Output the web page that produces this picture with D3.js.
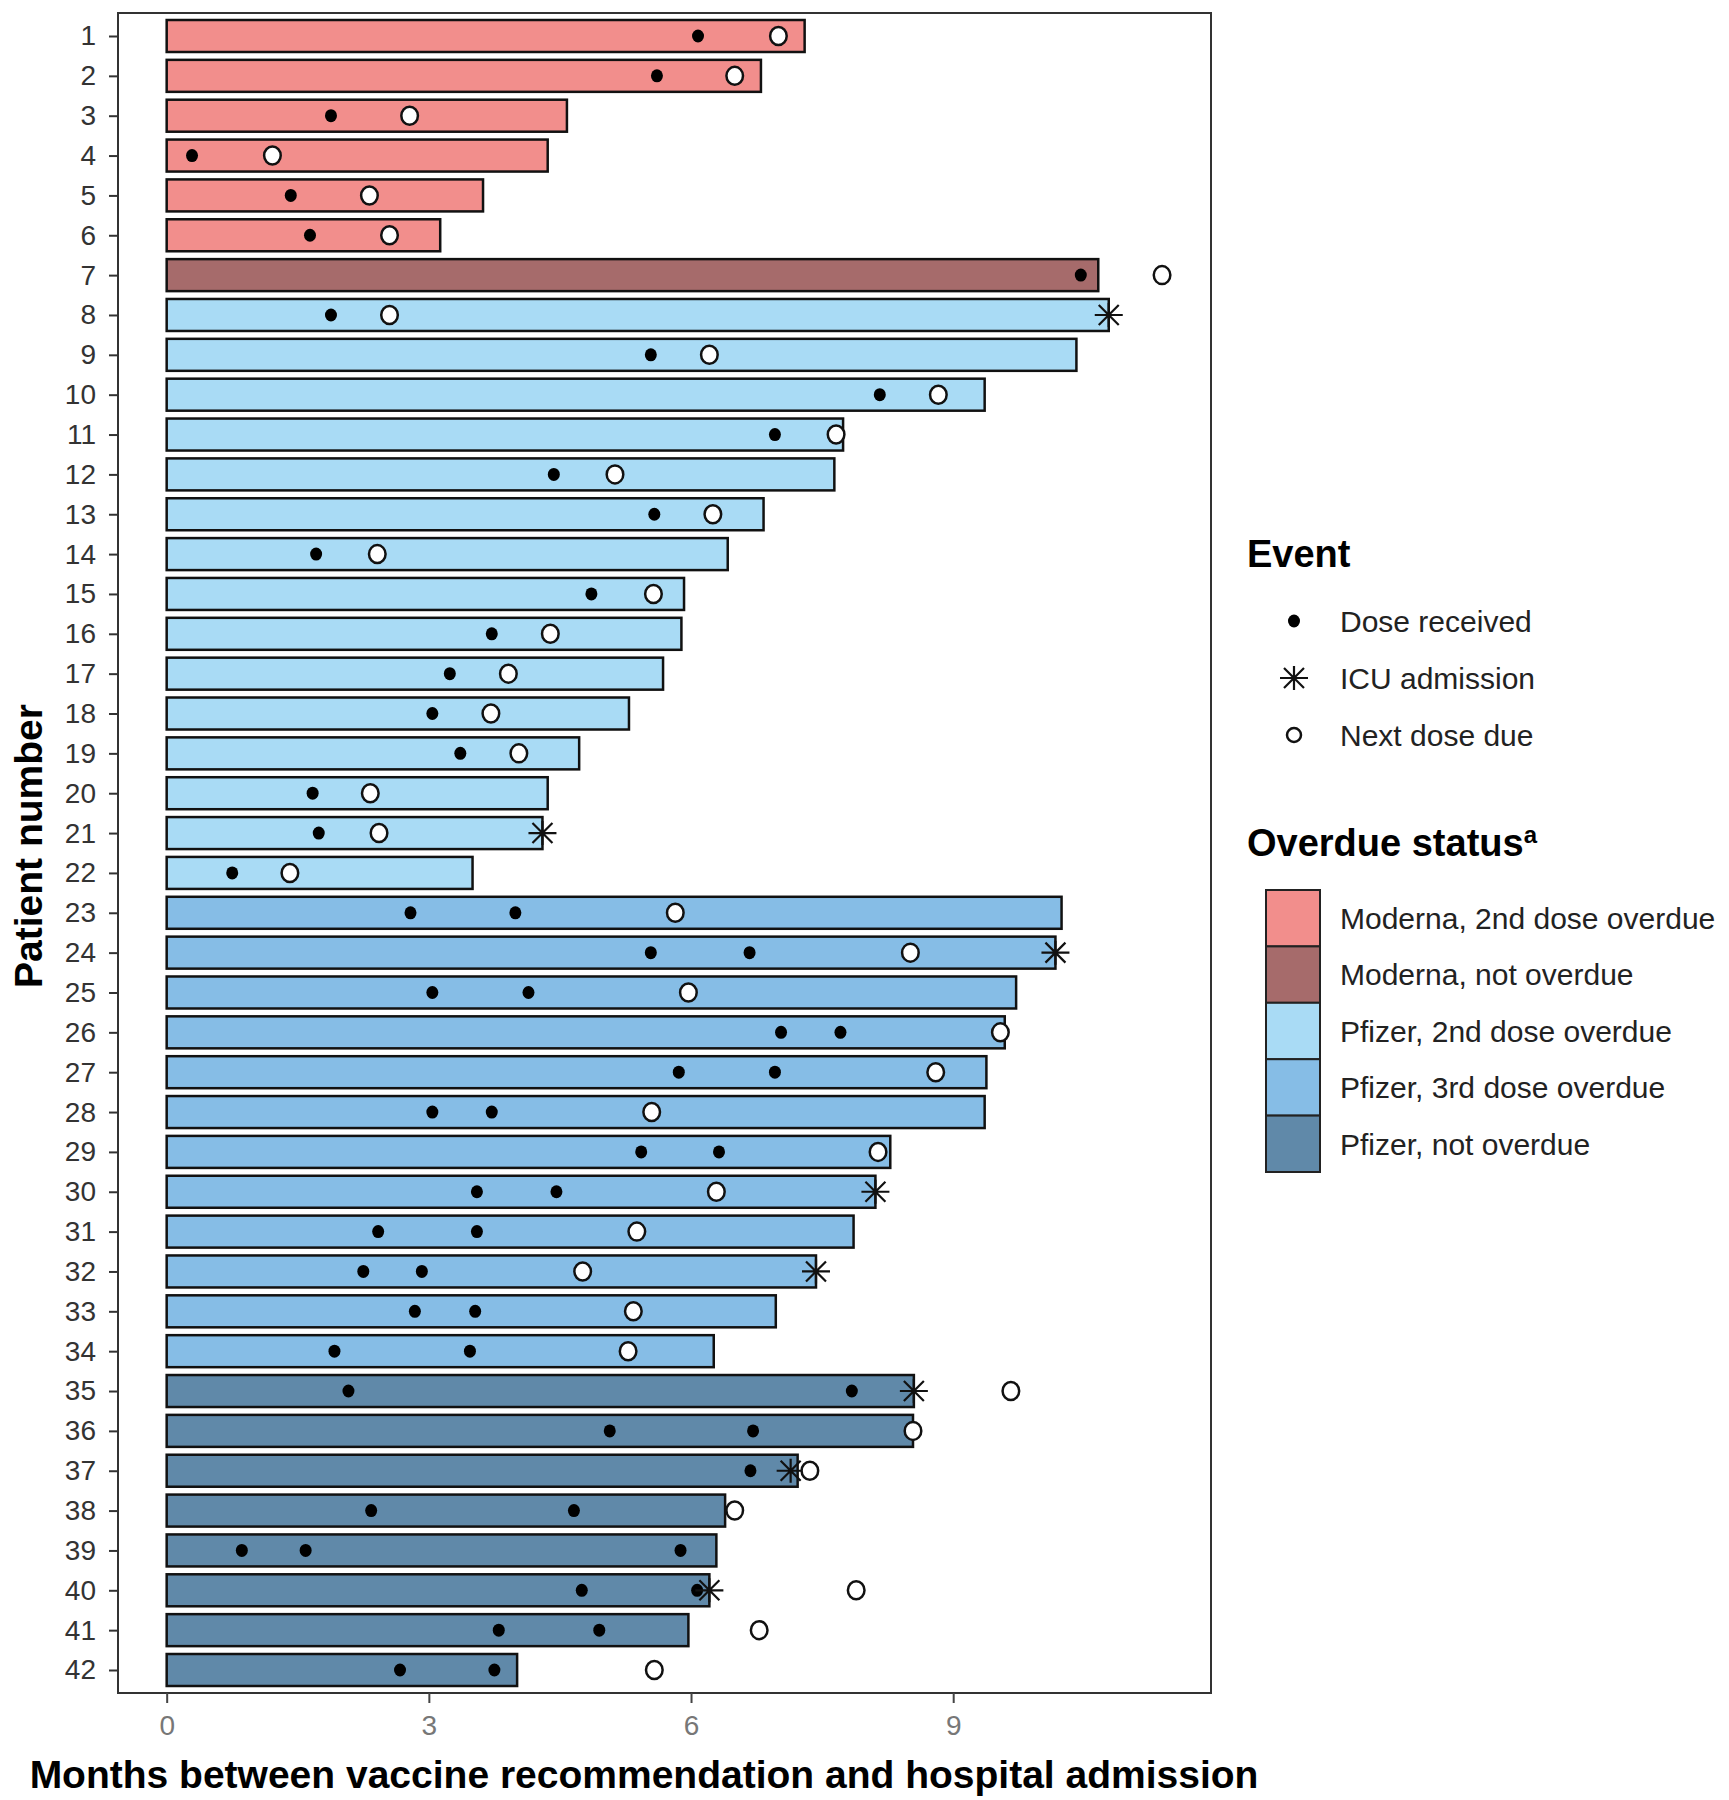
<!DOCTYPE html>
<html>
<head>
<meta charset="utf-8">
<script src="https://cdn.jsdelivr.net/npm/d3@7"></script>
<style>
  html, body { margin: 0; padding: 0; background: #fff; }
  svg { display: block; }
  text { font-family: "Liberation Sans", Arial, sans-serif; }
</style>
</head>
<body>
<svg id="chart" width="1729" height="1800"></svg>
<script>
// ---------- DATA ----------
const patients = d3.range(1, 43);
const statusCategories = [
  "Moderna, 2nd dose overdue",
  "Moderna, not overdue",
  "Pfizer, 2nd dose overdue",
  "Pfizer, 3rd dose overdue",
  "Pfizer, not overdue"
];
const statusColors = ["#F28E8C", "#A66B6B", "#A9DBF5", "#86BDE6", "#6089A9"];
// status index per patient
const patientStatus = [
  0,0,0,0,0,0,
  1,
  2,2,2,2,2,2,2,2,2,2,2,2,2,2,2,
  3,3,3,3,3,3,3,3,3,3,3,3,
  4,4,4,4,4,4,4,4
];
// months from recommendation to hospital admission (bar end)
const admission = [
  7.30, 6.80, 4.58, 4.36, 3.62, 3.13, 10.66, 10.78, 10.41, 9.36,
  7.74, 7.64, 6.83, 6.42, 5.92, 5.89, 5.68, 5.29, 4.72, 4.36,
  4.30, 3.50, 10.24, 10.17, 9.72, 9.59, 9.38, 9.36, 8.28, 8.11,
  7.86, 7.43, 6.97, 6.26, 8.55, 8.54, 7.22, 6.39, 6.29, 6.21,
  5.97, 4.01
];
// doses received (months)
const dosesReceived = [
  [6.08], [5.61], [1.88], [0.29], [1.42], [1.64], [10.46], [1.88], [5.54], [8.16],
  [6.96], [4.43], [5.58], [1.71], [4.86], [3.72], [3.24], [3.04], [3.36], [1.67],
  [1.74], [0.75], [2.79, 3.99], [5.54, 6.67], [3.04, 4.14], [7.03, 7.71], [5.86, 6.96], [3.04, 3.72], [5.43, 6.32], [3.55, 4.46],
  [2.42, 3.55], [2.25, 2.92], [2.84, 3.53], [1.92, 3.47], [2.08, 7.84], [5.07, 6.71], [6.68], [2.34, 4.66], [0.86, 1.59, 5.88], [4.75, 6.07],
  [3.80, 4.95], [2.67, 3.75]
];
// next dose due (months); null = none shown
const nextDoseDue = [
  7.00, 6.50, 2.78, 1.21, 2.32, 2.55, 11.39, 2.55, 6.21, 8.83,
  7.66, 5.13, 6.25, 2.41, 5.57, 4.39, 3.91, 3.71, 4.03, 2.33,
  2.43, 1.41, 5.82, 8.51, 5.97, 9.54, 8.80, 5.55, 8.14, 6.29,
  5.38, 4.76, 5.34, 5.28, 9.66, 8.54, 7.36, 6.50, null, 7.89,
  6.78, 5.58
];
// ICU admission (months); null = none
const icuAdmission = [
  null, null, null, null, null, null, null, 10.78, null, null,
  null, null, null, null, null, null, null, null, null, null,
  4.30, null, null, 10.17, null, null, null, null, null, 8.11,
  null, 7.43, null, null, 8.55, null, 7.14, null, null, 6.21,
  null, null
];
const xTicks = [0, 3, 6, 9];
const eventLabels = ["Dose received", "ICU admission", "Next dose due"];
const xTitle = "Months between vaccine recommendation and hospital admission";
const yTitle = "Patient number";

// ---------- LAYOUT ----------
const svg = d3.select("#chart");
const panel = { left: 118, right: 1211, top: 13, bottom: 1693 };

const x = d3.scaleLinear().domain([-0.557, 11.95]).range([panel.left, panel.right]);
const y = d3.scalePoint().domain(patients).range([36, 1670]);
const barH = 32;
const color = d3.scaleOrdinal().domain(d3.range(5)).range(statusColors);

const rows = patients.map((p, i) => ({
  p, status: patientStatus[i], end: admission[i],
  doses: dosesReceived[i], due: nextDoseDue[i], icu: icuAdmission[i]
}));

// bars
svg.append("g").selectAll("rect").data(rows).join("rect")
  .attr("x", x(0))
  .attr("y", d => y(d.p) - barH / 2)
  .attr("width", d => x(d.end) - x(0))
  .attr("height", barH)
  .attr("fill", d => color(d.status))
  .attr("stroke", "#111")
  .attr("stroke-width", 2.5);

// asterisk path generator (plus + cross)
function asteriskPath(cx, cy, rx, ry, rd) {
  return `M${cx - rx},${cy}L${cx + rx},${cy}` +
         `M${cx},${cy - ry}L${cx},${cy + ry}` +
         `M${cx - rd},${cy - rd}L${cx + rd},${cy + rd}` +
         `M${cx - rd},${cy + rd}L${cx + rd},${cy - rd}`;
}

// dose dots
const doseData = rows.flatMap(d => d.doses.map(v => ({ p: d.p, v })));
svg.append("g").selectAll("ellipse").data(doseData).join("ellipse")
  .attr("cx", d => x(d.v))
  .attr("cy", d => y(d.p))
  .attr("rx", 6).attr("ry", 6.5)
  .attr("fill", "#000");

// ICU asterisks
svg.append("g").selectAll("path").data(rows.filter(d => d.icu != null)).join("path")
  .attr("d", d => asteriskPath(x(d.icu), y(d.p), 14, 12, 10))
  .attr("stroke", "#111").attr("stroke-width", 2.2).attr("fill", "none");

// next dose due
svg.append("g").selectAll("ellipse").data(rows.filter(d => d.due != null)).join("ellipse")
  .attr("cx", d => x(d.due))
  .attr("cy", d => y(d.p))
  .attr("rx", 8.3).attr("ry", 9)
  .attr("fill", "#fff")
  .attr("stroke", "#111").attr("stroke-width", 2.5);

// panel border
svg.append("rect")
  .attr("x", panel.left).attr("y", panel.top)
  .attr("width", panel.right - panel.left).attr("height", panel.bottom - panel.top)
  .attr("fill", "none").attr("stroke", "#333").attr("stroke-width", 2);

// x axis
const xAxis = svg.append("g")
  .attr("transform", `translate(0,${panel.bottom})`)
  .call(d3.axisBottom(x).tickValues(xTicks).tickSize(10).tickPadding(12).tickFormat(d3.format("d")));
xAxis.select(".domain").remove();
xAxis.selectAll(".tick line").attr("stroke", "#444").attr("stroke-width", 2);
xAxis.selectAll(".tick text")
  .attr("font-size", 28).attr("fill", "#777")
  .style("font-family", "'Liberation Sans', Arial, sans-serif");

// y axis
const yAxis = svg.append("g")
  .attr("transform", `translate(${panel.left},0)`)
  .call(d3.axisLeft(y).tickSize(9).tickPadding(13));
yAxis.select(".domain").remove();
yAxis.selectAll(".tick line").attr("stroke", "#333").attr("stroke-width", 2);
yAxis.selectAll(".tick text")
  .attr("font-size", 28).attr("fill", "#333")
  .style("font-family", "'Liberation Sans', Arial, sans-serif");

// axis titles
svg.append("text")
  .attr("x", 644).attr("y", 1788)
  .attr("text-anchor", "middle")
  .attr("font-size", 39).attr("font-weight", "bold").attr("fill", "#000")
  .text(xTitle);

svg.append("text")
  .attr("transform", `translate(42,846) rotate(-90)`)
  .attr("text-anchor", "middle")
  .attr("font-size", 39).attr("font-weight", "bold").attr("fill", "#000")
  .text(yTitle);

// ---------- LEGEND ----------
const lg = svg.append("g");
lg.append("text").attr("x", 1247).attr("y", 567)
  .attr("font-size", 38).attr("font-weight", "bold").text("Event");

const evY = [621, 678, 735];
const symX = 1294, labX = 1340;
lg.append("ellipse").attr("cx", symX).attr("cy", evY[0]).attr("rx", 6).attr("ry", 6.5).attr("fill", "#000");
lg.append("path").attr("d", asteriskPath(symX, evY[1], 14, 12, 10))
  .attr("stroke", "#111").attr("stroke-width", 2.2).attr("fill", "none");
lg.append("ellipse").attr("cx", symX).attr("cy", evY[2]).attr("rx", 7).attr("ry", 7)
  .attr("fill", "#fff").attr("stroke", "#111").attr("stroke-width", 2.5);
eventLabels.forEach((t, i) => {
  lg.append("text").attr("x", labX).attr("y", evY[i]).attr("dy", "0.36em")
    .attr("font-size", 30).attr("fill", "#222").text(t);
});

const st = lg.append("text").attr("x", 1247).attr("y", 856)
  .attr("font-size", 38).attr("font-weight", "bold");
st.append("tspan").text("Overdue status");
st.append("tspan").attr("dy", -13).attr("font-size", 24).text("a");

const boxTop = 890, boxH = 56.4;
statusCategories.forEach((t, i) => {
  lg.append("rect")
    .attr("x", 1266).attr("y", boxTop + i * boxH)
    .attr("width", 54).attr("height", boxH)
    .attr("fill", statusColors[i]).attr("stroke", "#222").attr("stroke-width", 2);
  lg.append("text").attr("x", labX).attr("y", boxTop + i * boxH + boxH / 2).attr("dy", "0.36em")
    .attr("font-size", 30).attr("fill", "#222").text(t);
});
</script>
</body>
</html>
